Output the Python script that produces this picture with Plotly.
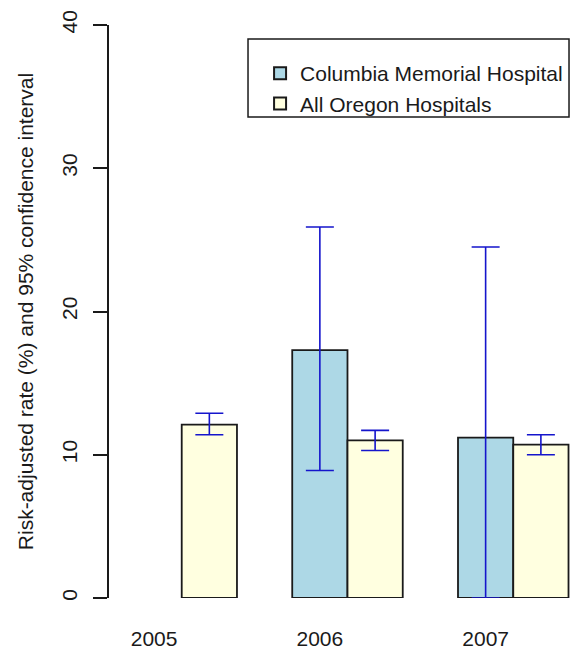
import plotly.graph_objects as go

years = ["2005", "2006", "2007"]
columbia_rate = [None, 17.3, 11.2]
columbia_lo = [None, 8.9, 0.0]
columbia_hi = [None, 25.9, 24.5]
oregon_rate = [12.1, 11.0, 10.7]
oregon_lo = [11.4, 10.3, 10.0]
oregon_hi = [12.9, 11.7, 11.4]

series_names = ["Columbia Memorial Hospital", "All Oregon Hospitals"]
y_ticks = [0, 10, 20, 30, 40]


def err_plus(r, h):
    return [None if v is None else hh - v for v, hh in zip(r, h)]


def err_minus(r, l):
    return [None if v is None else v - ll for v, ll in zip(r, l)]


FONT = "Liberation Sans, Arial, sans-serif"
TXT = "#1a1a1a"
ERR_COLOR = "#1515CC"
FS = 21

fig = go.Figure()
fig.add_trace(go.Bar(
    x=years, y=columbia_rate, name=series_names[0],
    width=1/3, offset=-1/6,
    marker=dict(color="#ADD8E6", line=dict(color="#1a1a1a", width=1.8)),
    error_y=dict(type="data", symmetric=False,
                 array=err_plus(columbia_rate, columbia_hi),
                 arrayminus=err_minus(columbia_rate, columbia_lo),
                 color=ERR_COLOR, thickness=1.6, width=14),
))
fig.add_trace(go.Bar(
    x=years, y=oregon_rate, name=series_names[1],
    width=1/3, offset=1/6,
    marker=dict(color="#FFFFE0", line=dict(color="#1a1a1a", width=1.8)),
    error_y=dict(type="data", symmetric=False,
                 array=err_plus(oregon_rate, oregon_hi),
                 arrayminus=err_minus(oregon_rate, oregon_lo),
                 color=ERR_COLOR, thickness=1.6, width=14),
))

# plot area in figure pixels: x 101..563, y 17..590
fig.update_layout(
    width=563, height=648,
    margin=dict(l=101, r=0, t=17, b=58, autoexpand=False),
    plot_bgcolor="white", paper_bgcolor="white",
    font=dict(family=FONT, size=FS, color=TXT),
    barmode="overlay",
    showlegend=True,
    legend=dict(x=0.327, y=0.951, xanchor="left", yanchor="top",
                bgcolor="rgba(0,0,0,0)", borderwidth=0,
                font=dict(family=FONT, size=FS, color=TXT),
                tracegroupgap=0, itemsizing="constant"),
    shapes=[dict(type="rect", xref="paper", yref="paper",
                 x0=0.3009, x1=0.9957, y0=0.8394, y1=0.9756,
                 line=dict(color="#1a1a1a", width=1.5), fillcolor="rgba(0,0,0,0)",
                 layer="above")],
)
fig.update_xaxes(
    type="category", range=[-0.272, 2.515],
    showline=False, showgrid=False, zeroline=False,
    ticks="", ticklabelstandoff=26,
    tickfont=dict(family=FONT, size=FS, color=TXT),
)
fig.update_yaxes(
    range=[0, 40], tickvals=y_ticks,
    showline=True, linecolor=TXT, linewidth=1.5,
    ticks="outside", ticklen=14, tickwidth=1.5, tickcolor=TXT,
    tickangle=-90, ticklabelstandoff=8, ticklabeloverflow="allow",
    showgrid=False, zeroline=False,
    tickfont=dict(family=FONT, size=FS, color=TXT),
    title=dict(text="Risk-adjusted rate (%) and 95% confidence interval",
               font=dict(family=FONT, size=FS, color=TXT), standoff=18),
)

fig.write_html("out.html")
